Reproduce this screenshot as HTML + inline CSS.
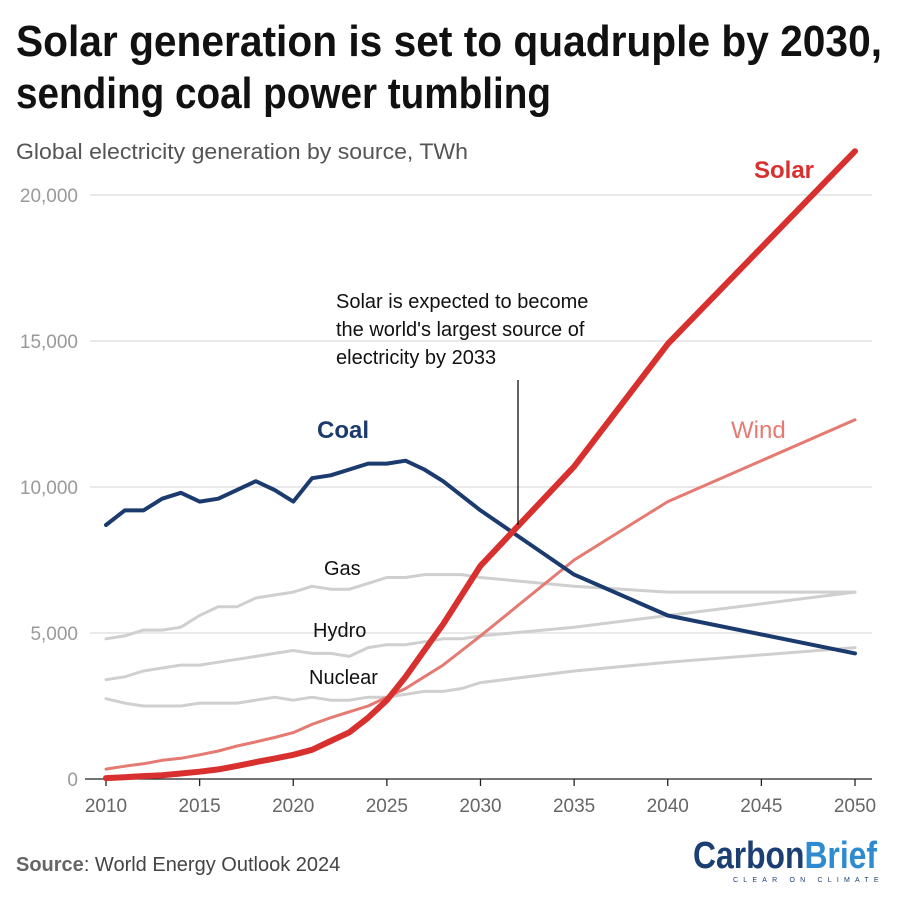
<!DOCTYPE html>
<html><head><meta charset="utf-8"><style>
body{margin:0;background:#fff}
svg{display:block;font-family:"Liberation Sans",sans-serif}
</style></head><body>
<svg id="chart" width="900" height="900" viewBox="0 0 900 900">
<text x="16" y="56" font-family="Liberation Sans Narrow, Liberation Sans, sans-serif" font-weight="bold" font-size="44" fill="#111" textLength="866" lengthAdjust="spacingAndGlyphs">Solar generation is set to quadruple by 2030,</text>
<text x="16" y="108" font-family="Liberation Sans Narrow, Liberation Sans, sans-serif" font-weight="bold" font-size="44" fill="#111" textLength="535" lengthAdjust="spacingAndGlyphs">sending coal power tumbling</text>
<text x="16" y="159" font-size="22" fill="#555" textLength="452" lengthAdjust="spacingAndGlyphs">Global electricity generation by source, TWh</text>
<g id="grid"></g><g id="lines"></g>
<line x1="518" y1="380" x2="518" y2="525" stroke="#111" stroke-width="1.3"/>
<text font-size="20" fill="#111"><tspan x="336" y="308">Solar is expected to become</tspan><tspan x="336" y="336">the world's largest source of</tspan><tspan x="336" y="364">electricity by 2033</tspan></text>
<text x="754" y="178" font-size="24" font-weight="bold" fill="#d8302f">Solar</text>
<text x="731" y="438" font-size="24" fill="#e47a72">Wind</text>
<text x="317" y="438" font-size="24" font-weight="bold" fill="#1b3b6f">Coal</text>
<text x="324" y="575" font-size="20" fill="#111">Gas</text>
<text x="313" y="637" font-size="20" fill="#111">Hydro</text>
<text x="309" y="684" font-size="20" fill="#111">Nuclear</text>
<text x="16" y="871" font-size="20" fill="#444"><tspan font-weight="bold" fill="#666">Source</tspan>: World Energy Outlook 2024</text>
<g>
<text x="693" y="868" font-family="Liberation Sans Narrow, Liberation Sans, sans-serif" font-weight="bold" font-size="38" textLength="184" lengthAdjust="spacingAndGlyphs"><tspan fill="#1b3f73">Carbon</tspan><tspan fill="#2f8bd0">Brief</tspan></text>
<text x="733" y="882" font-size="7" fill="#1b3f73" letter-spacing="5.2">CLEAR ON CLIMATE</text>
</g>
</svg>
<script>
const years=[2010,2011,2012,2013,2014,2015,2016,2017,2018,2019,2020,2021,2022,2023,2024,2025,2026,2027,2028,2029,2030,2035,2040,2050];
const coal=[8700,9200,9200,9600,9800,9500,9600,9900,10200,9900,9500,10300,10400,10600,10800,10800,10900,10600,10200,9700,9200,7000,5600,4300];
const solar=[30,60,100,130,190,250,330,450,580,700,830,1000,1300,1600,2100,2700,3500,4400,5300,6300,7300,10700,14900,21500];
const wind=[340,440,520,640,710,830,960,1130,1270,1420,1590,1870,2100,2300,2500,2800,3100,3500,3900,4400,4900,7500,9500,12300];
const gas=[4800,4900,5100,5100,5200,5600,5900,5900,6200,6300,6400,6600,6500,6500,6700,6900,6900,7000,7000,7000,6900,6600,6400,6400];
const hydro=[3400,3500,3700,3800,3900,3900,4000,4100,4200,4300,4400,4300,4300,4200,4500,4600,4600,4700,4800,4800,4900,5200,5600,6400];
const nuclear=[2750,2600,2500,2500,2500,2600,2600,2600,2700,2800,2700,2800,2700,2700,2800,2800,2900,3000,3000,3100,3300,3700,4000,4500];
const yTicks=[0,5000,10000,15000,20000];
const yTickLabels=["0","5,000","10,000","15,000","20,000"];
const xTicks=[2010,2015,2020,2025,2030,2035,2040,2045,2050];
const NS="http://www.w3.org/2000/svg";
const x=v=>106+(v-2010)*(855-106)/40;
const y=v=>779-v*(779-195)/20000;
const grid=document.getElementById('grid'),lines=document.getElementById('lines');
function mk(tag,attrs,parent){const e=document.createElementNS(NS,tag);for(const k in attrs)e.setAttribute(k,attrs[k]);parent.appendChild(e);return e;}
yTicks.forEach((t,i)=>{
  if(t>0){const g=mk('line',{x1:90,x2:872,y1:y(t),y2:y(t),stroke:'#e2e2e2','stroke-width':1.5},grid);
  
  }
  const l=mk('text',{x:78,y:y(t)+7,'text-anchor':'end','font-size':19,fill:'#999'},grid);
  l.textContent=yTickLabels[i];
  
  
});
const ax=mk('line',{x1:85,x2:872,y1:779,y2:779,stroke:'#222','stroke-width':1.3},grid);


xTicks.forEach(t=>{
  const tk=mk('line',{x1:x(t),x2:x(t),y1:779,y2:786,stroke:'#222','stroke-width':1.3},grid);
  
  
  const l=mk('text',{x:x(t),y:812,'text-anchor':'middle','font-size':19,fill:'#666'},grid);
  l.textContent=t;
  
  
});
function series(data,color,w,name){
  const d=data.map((v,i)=>(i?'L':'M')+x(years[i]).toFixed(1)+','+y(v).toFixed(1)).join('');
  const p=mk('path',{d:d,fill:'none',stroke:color,'stroke-width':w,'stroke-linejoin':'round','stroke-linecap':'round'},lines);
  
  
}
series(nuclear,'#cfcfcf',3,'nuclear-line');
series(hydro,'#cfcfcf',3,'hydro-line');
series(gas,'#cfcfcf',3,'gas-line');
series(wind,'#e47a72',3,'wind-line');
series(coal,'#1b3b6f',4,'coal-line');
series(solar,'#d8302f',6,'solar-line');
</script>
</body></html>
